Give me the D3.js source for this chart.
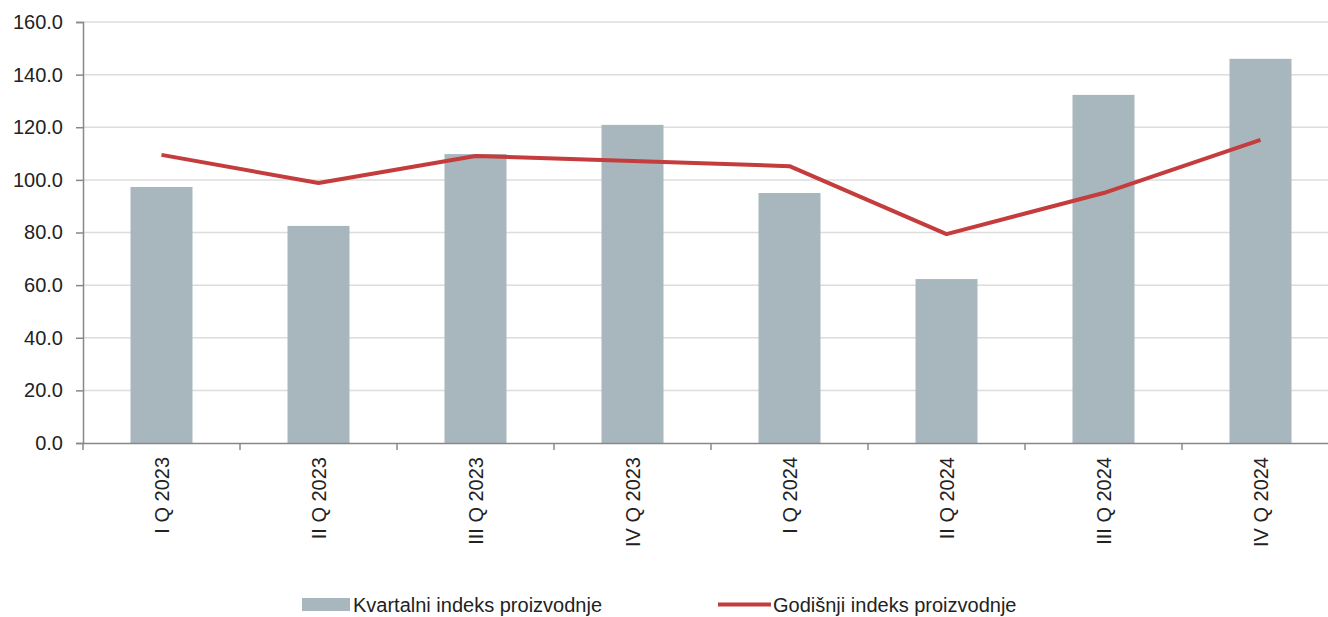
<!DOCTYPE html>
<html><head><meta charset="utf-8">
<script src="https://cdn.jsdelivr.net/npm/d3@7"></script>
<style>body{margin:0;background:#fff;}svg{display:block;font-family:"Liberation Sans",Arial,sans-serif;}</style>
</head><body><svg id="c" width="1328" height="617"></svg>
<script>
const categories = ["I Q 2023","II Q 2023","III Q 2023","IV Q 2023","I Q 2024","II Q 2024","III Q 2024","IV Q 2024"];
const quarterly = [97.3, 82.5, 109.8, 120.9, 95.0, 62.3, 132.3, 146.0];
const annual = [109.5, 98.8, 109.1, 107.2, 105.2, 79.4, 95.0, 115.2];
const yTicks = [0,20,40,60,80,100,120,140,160];
const legendLabels = ["Kvartalni indeks proizvodnje","Godišnji indeks proizvodnje"];

(function(){
const FS = 20;
const svg = d3.select("#c");
const mL = 83, mR = 1339, mT = 22, mB = 443;
const xc = d3.scaleBand().domain(categories).range([mL, mR]);
const y = d3.scaleLinear().domain([0,160]).range([mB, mT]);

svg.append("g").selectAll("line").data(yTicks.slice(1)).join("line")
  .attr("x1", mL).attr("x2", 1328).attr("y1", d=>y(d)).attr("y2", d=>y(d))
  .attr("stroke", "#dcdcdc").attr("stroke-width", 1.5);

svg.append("g").selectAll("rect").data(quarterly).join("rect")
  .attr("x", (d,i)=>xc(categories[i]) + xc.bandwidth()/2 - 31)
  .attr("width", 62)
  .attr("y", d=>y(d)).attr("height", d=>mB - y(d))
  .attr("fill", "#a8b7bd");

const yAxis = svg.append("g").attr("transform", `translate(${mL},0)`)
  .call(d3.axisLeft(y).tickValues(yTicks).tickFormat(d3.format(".1f")).tickSize(7).tickPadding(13));
yAxis.select(".domain").attr("stroke", "#888").attr("stroke-width", 1.5);
yAxis.selectAll(".tick line").attr("stroke", "#888").attr("stroke-width", 1.5);
yAxis.selectAll("text").attr("font-size", FS).attr("fill", "#222").attr("font-family","Liberation Sans, Arial, sans-serif");

const xAxis = svg.append("g").attr("transform", `translate(0,${mB})`)
  .call(d3.axisBottom(xc).tickSize(0).tickFormat(""));
xAxis.select(".domain").attr("stroke", "#888").attr("stroke-width", 1.5);
svg.append("g").selectAll("line").data(d3.range(categories.length + 1)).join("line")
  .attr("x1", i=>mL + i*xc.step()).attr("x2", i=>mL + i*xc.step())
  .attr("y1", mB).attr("y2", mB + 7)
  .attr("stroke", "#888").attr("stroke-width", 1.5);
svg.append("g").selectAll("text").data(categories).join("text")
  .attr("transform", d=>`translate(${xc(d)+xc.bandwidth()/2 + 7},${mB + 14}) rotate(-90)`)
  .attr("text-anchor", "end").attr("font-size", FS).attr("fill", "#222")
  .text(d=>d);

const line = d3.line().x((d,i)=>xc(categories[i]) + xc.bandwidth()/2).y(d=>y(d));
svg.append("path").datum(annual).attr("d", line)
  .attr("fill", "none").attr("stroke", "#c43c3c").attr("stroke-width", 4).attr("stroke-linejoin","round");

const lg = svg.append("g");
lg.append("rect").attr("x", 302).attr("y", 598).attr("width", 48).attr("height", 13).attr("fill", "#a8b7bd");
lg.append("text").attr("x", 353).attr("y", 612).attr("font-size", FS).attr("fill", "#222").text(legendLabels[0]);
lg.append("line").attr("x1", 718).attr("x2", 771).attr("y1", 604.5).attr("y2", 604.5).attr("stroke", "#c43c3c").attr("stroke-width", 4);
lg.append("text").attr("x", 773).attr("y", 612).attr("font-size", FS).attr("fill", "#222").text(legendLabels[1]);
})();
</script></body></html>
